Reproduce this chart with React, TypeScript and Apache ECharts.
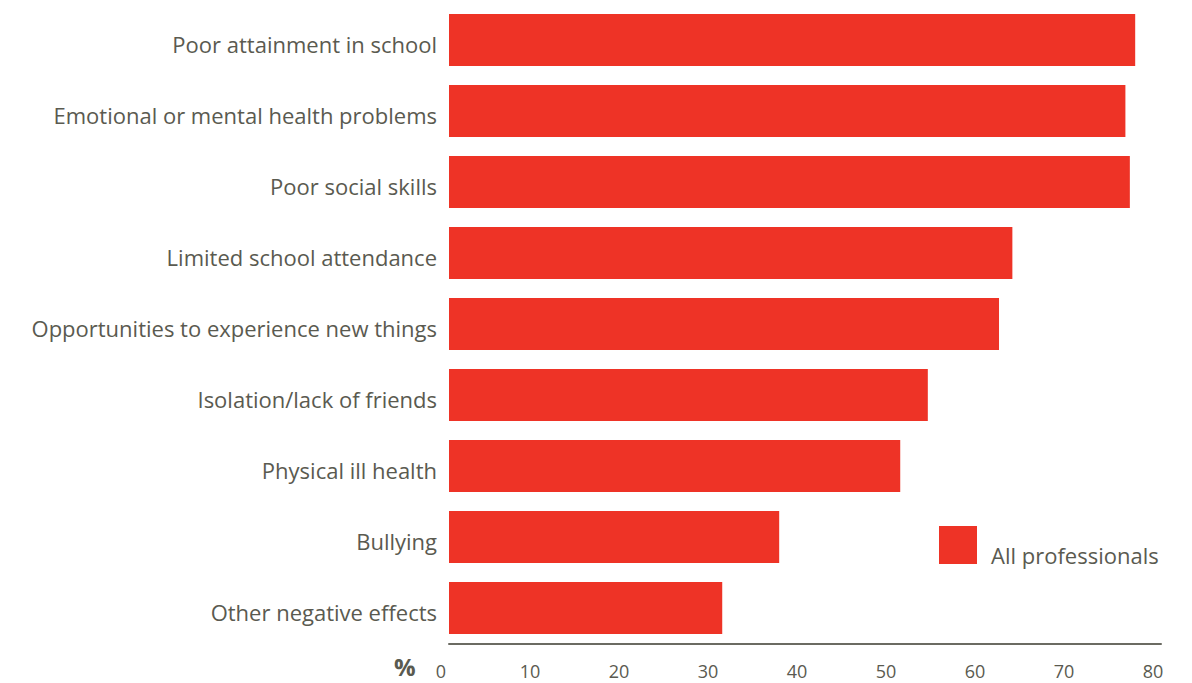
import React, { useEffect, useRef } from "react";
import * as echarts from "echarts";

const categories = [
  "Poor attainment in school",
  "Emotional or mental health problems",
  "Poor social skills",
  "Limited school attendance",
  "Opportunities to experience new things",
  "Isolation/lack of friends",
  "Physical ill health",
  "Bullying",
  "Other negative effects",
];
const values = [77.1, 76.0, 76.5, 63.3, 61.8, 53.8, 50.7, 37.1, 30.7];
const seriesName = "All professionals";
const axisUnit = "%";

const FONT = "'Open Sans', 'Noto Sans', sans-serif";
const TEXT = "#5a5a50";
const RED = "#ee3326";

export default function App() {
  const ref = useRef<HTMLDivElement>(null);
  useEffect(() => {
    const chart = echarts.init(ref.current!, null, { renderer: "svg" });
    chart.setOption({
      animation: false,
      grid: { left: 449, right: 31, top: 4.5, bottom: 39.5, containLabel: false },
      legend: {
        data: [seriesName],
        left: 939,
        top: 526,
        padding: 0,
        icon: "rect",
        itemWidth: 38,
        itemHeight: 38,
        itemGap: 0,
        selectedMode: false,
        formatter: (name: string) => `{a|${name}}`,
        textStyle: {
          color: TEXT,
          fontSize: 22,
          fontFamily: FONT,
          rich: {
            a: { color: TEXT, fontSize: 22, fontFamily: FONT, padding: [20, 0, 0, 9] },
          },
        },
      },
      xAxis: {
        type: "value",
        min: 0,
        max: 80,
        interval: 10,
        axisLine: { show: true, lineStyle: { color: "#6b6b62", width: 2 } },
        axisTick: { show: false },
        splitLine: { show: false },
        axisLabel: {
          color: TEXT,
          fontSize: 18,
          fontFamily: FONT,
          margin: 18,
          padding: [0, 16, 0, 0],
        },
      },
      yAxis: {
        type: "category",
        data: categories,
        inverse: true,
        axisLine: { show: false },
        axisTick: { show: false },
        axisLabel: {
          color: TEXT,
          fontSize: 22,
          fontFamily: FONT,
          margin: 12,
          formatter: (v: string) => `{a|${v}}`,
          rich: {
            a: { color: TEXT, fontSize: 22, fontFamily: FONT, padding: [7, 0, 0, 0] },
          },
        },
      },
      graphic: [
        {
          type: "text",
          x: 394,
          y: 666,
          style: {
            text: axisUnit,
            fill: TEXT,
            fontSize: 24,
            fontWeight: "bold",
            fontFamily: FONT,
            verticalAlign: "middle",
          },
        },
      ],
      series: [
        {
          name: seriesName,
          type: "bar",
          data: values,
          barWidth: 52,
          itemStyle: { color: RED },
        },
      ],
    });
    return () => chart.dispose();
  }, []);
  return <div ref={ref} style={{ width: 1192, height: 683, position: "absolute", left: 0, top: 0 }} />;
}
